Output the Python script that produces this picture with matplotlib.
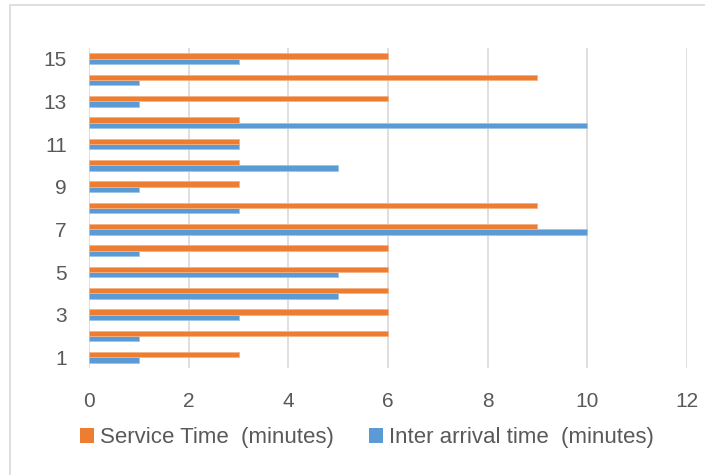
import matplotlib.pyplot as plt
from matplotlib.patches import Patch, Rectangle
import numpy as np

plt.rcParams['font.family'] = ['Liberation Sans', 'DejaVu Sans']

customers = list(range(1, 16))
inter_arrival = [1, 1, 3, 5, 5, 1, 10, 3, 1, 5, 3, 10, 1, 1, 3]
service_time = [3, 6, 6, 6, 6, 6, 9, 9, 3, 3, 3, 3, 6, 9, 6]
x_ticks = [0, 2, 4, 6, 8, 10, 12]
y_ticks = [1, 3, 5, 7, 9, 11, 13, 15]

orange = '#ED7D31'
blue = '#5B9BD5'
text_col = '#595959'
grid_col = '#D9D9D9'

fig = plt.figure(figsize=(7.05, 4.75), dpi=100)
ax = fig.add_axes([89 / 705, 1 - 368 / 475, (687 - 89) / 705, (368 - 48) / 475])

y = np.array(customers, dtype=float)
h = 0.25
ax.barh(y - h / 2, inter_arrival, height=h, color=blue, edgecolor='#9DC3E6',
        linewidth=0.6, zorder=3)
ax.barh(y + h / 2, service_time, height=h, color=orange, edgecolor='#F4B183',
        linewidth=0.6, zorder=3)

ax.set_xlim(0, 12)
ax.set_ylim(0.5, 15.5)
ax.set_xticks(x_ticks)
ax.set_yticks(y_ticks)
ax.tick_params(axis='both', length=0, labelsize=15, colors=text_col)
ax.tick_params(axis='x', pad=17)
ax.tick_params(axis='y', pad=16)
ax.xaxis.grid(True, color=grid_col, linewidth=1.2, zorder=0)
ax.set_axisbelow(True)
for s in ax.spines.values():
    s.set_visible(False)

# chart frame
fig.patches.append(Rectangle((10 / 705, -0.1), 1.2, 1 - 5 / 475 + 0.1,
                             transform=fig.transFigure, fill=False,
                             edgecolor=grid_col, linewidth=1.2))

handles = [Patch(facecolor=orange, edgecolor='none', label='Service Time  (minutes)'),
           Patch(facecolor=blue, edgecolor='none', label='Inter arrival time  (minutes)')]
leg = fig.legend(handles=handles, loc='center', bbox_to_anchor=(367 / 705, 1 - 438 / 475),
                 ncol=2, frameon=False, fontsize=16, handlelength=0.62, handleheight=0.62,
                 handletextpad=0.28, columnspacing=1.6)
for t in leg.get_texts():
    t.set_color(text_col)

fig.savefig('out.png', dpi=100)
